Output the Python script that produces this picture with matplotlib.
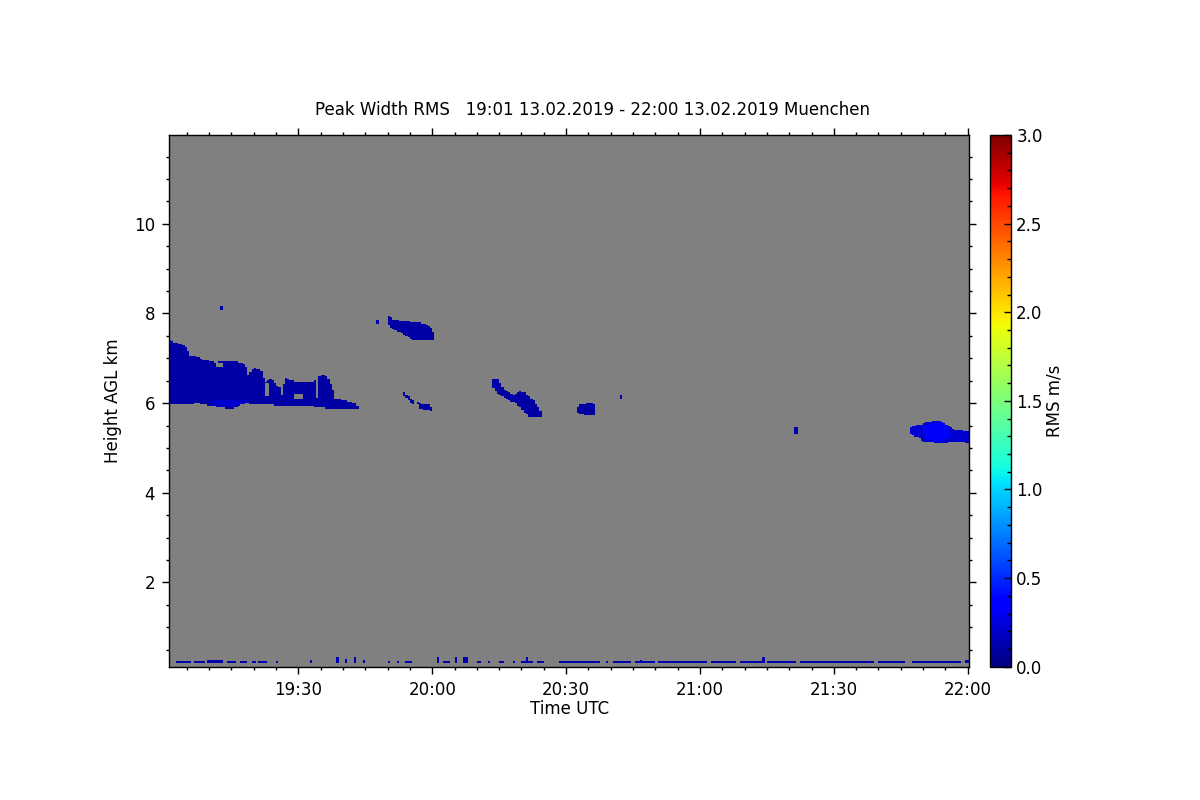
import numpy as np
import matplotlib
matplotlib.use("Agg")
import matplotlib.pyplot as plt
from matplotlib.path import Path
from matplotlib.ticker import MultipleLocator, FuncFormatter

plt.rcParams['font.family'] = ['DejaVu Sans']
FS = 12

# ---------------- data (time in minutes after 19:00 UTC, height in km AGL) -------------
TITLE = "Peak Width RMS   19:01 13.02.2019 - 22:00 13.02.2019 Muenchen"
T_START, T_END = 1.0, 180.4
H_MIN, H_MAX = 0.12, 11.98
T_STEP, H_STEP = 0.5, 0.03

# cloud outlines: (minutes, km)
CLOUD_A_T = [1.0, 3.5, 5.0, 5.7, 7.6, 8.7, 11.3, 13.2, 17.3, 18.4, 18.8, 19.6, 20.3, 21.8, 22.5, 24.0, 24.8,
             25.9, 26.3, 27.0, 28.5, 31.5, 34.1, 34.9, 35.6, 36.7, 37.9, 38.2, 40.5, 43.1, 43.5, 37.5, 31.5,
             25.5, 18.1, 15.1, 12.1, 7.6, 1.0]
CLOUD_A_H = [7.41, 7.32, 7.24, 7.06, 7.02, 6.97, 6.91, 6.93, 6.91, 6.80, 6.61, 6.76, 6.78, 6.73, 6.47, 6.54,
             6.43, 6.36, 6.17, 6.58, 6.50, 6.47, 6.50, 6.61, 6.65, 6.54, 6.25, 6.10, 6.06, 5.99, 5.89, 5.88,
             5.95, 5.95, 5.99, 5.88, 5.91, 5.99, 5.96]
CLOUD_B_T = [50.0, 51.3, 53.5, 55.8, 57.9, 60.0, 60.5, 60.5, 57.9, 55.8, 53.5, 51.3, 50.0]
CLOUD_B_H = [7.97, 7.87, 7.83, 7.81, 7.78, 7.68, 7.50, 7.40, 7.42, 7.42, 7.55, 7.64, 7.75]
CLOUD_C_T = [53.4, 54.4, 55.9, 55.7, 55.2, 53.7]
CLOUD_C_H = [6.27, 6.18, 6.03, 5.97, 6.02, 6.16]
CLOUD_D_T = [56.6, 57.3, 59.2, 59.9, 59.9, 57.3, 56.7]
CLOUD_D_H = [6.06, 5.99, 5.96, 5.89, 5.82, 5.88, 5.99]
CLOUD_E_T = [73.7, 74.8, 75.6, 76.7, 78.2, 79.8, 80.7, 82.6, 83.7, 84.6, 84.6, 82.0, 80.5, 79.8, 78.2,
             76.7, 74.8, 73.7]
CLOUD_E_H = [6.55, 6.54, 6.36, 6.27, 6.19, 6.27, 6.24, 6.07, 5.92, 5.75, 5.69, 5.69, 5.80, 5.92, 6.02,
             6.10, 6.22, 6.33]
CLOUD_F_T = [92.3, 93.2, 95.1, 96.2, 96.7, 94.3, 92.8]
CLOUD_F_H = [5.84, 5.96, 6.00, 6.01, 5.73, 5.73, 5.78]
CLOUD_G_T = [141.1, 141.9, 142.0, 141.2]
CLOUD_G_H = [5.48, 5.45, 5.30, 5.32]
CLOUD_H_T = [166.8, 167.2, 169.4, 171.3, 173.9, 175.0, 176.9, 178.4, 180.6, 180.6, 177.6, 173.9, 170.1,
             169.0, 167.5]
CLOUD_H_H = [5.36, 5.47, 5.52, 5.59, 5.61, 5.54, 5.42, 5.39, 5.37, 5.10, 5.14, 5.10, 5.14, 5.23, 5.30]
CLOUD_VALUES = [0.10, 0.10, 0.10, 0.10, 0.10, 0.10, 0.12, 0.22]

# brighter cores
CORE_A_T = [10.5, 18.5, 18.5, 10.5]
CORE_A_H = [6.05, 6.05, 5.90, 5.90]
CORE_H_T = [170.0, 174.5, 176.5, 174.0, 170.5]
CORE_H_H = [5.50, 5.58, 5.30, 5.14, 5.20]
CORE_VALUES = [0.20, 0.33]

# gaps inside the large cloud: (t0, t1, h0, h1)
HOLES = [(22.6, 23.4, 6.15, 6.45), (29.2, 31.0, 6.08, 6.22), (33.9, 34.7, 6.12, 6.70),
         (11.5, 13.0, 6.82, 6.90)]

# small isolated echoes: (t0, t1, h0, h1)
SPECKLES = [(12.5, 13.2, 8.06, 8.17), (47.4, 47.9, 7.78, 7.85), (101.8, 102.3, 6.10, 6.17)]
SPECKLE_VALUE = 0.12

# near-ground clutter: (t0, t1, top km), base 0.21 km
GROUND = [(2.5, 6.0, 0.24), (6.5, 9.0, 0.24), (9.5, 13.0, 0.26), (14.0, 16.0, 0.24), (17.0, 18.5, 0.24),
          (19.5, 20.5, 0.24), (21.0, 23.0, 0.24), (25.0, 25.5, 0.24), (32.5, 33.0, 0.27),
          (38.5, 39.0, 0.34), (40.5, 41.0, 0.30), (42.5, 43.0, 0.34), (44.5, 45.0, 0.28),
          (50.0, 50.5, 0.24), (52.0, 52.5, 0.24), (54.0, 55.5, 0.24), (61.0, 61.5, 0.33),
          (62.5, 64.0, 0.24), (65.0, 65.5, 0.33), (67.0, 68.0, 0.34), (70.0, 71.0, 0.24),
          (72.5, 73.0, 0.24), (75.0, 76.0, 0.24), (78.0, 78.5, 0.24), (80.0, 82.5, 0.24),
          (81.0, 81.5, 0.32), (83.5, 85.0, 0.24), (88.5, 97.5, 0.24), (99.0, 99.5, 0.24),
          (100.5, 104.5, 0.24), (105.5, 110.0, 0.24), (106.5, 107.0, 0.28), (110.5, 121.5, 0.24),
          (122.5, 128.0, 0.24), (129.0, 134.0, 0.24), (134.0, 134.5, 0.33), (135.0, 141.5, 0.24),
          (142.5, 159.0, 0.24), (160.0, 166.0, 0.24), (167.5, 178.5, 0.24), (179.5, 180.4, 0.26)]
GROUND_BASE = 0.21
GROUND_VALUE = 0.12

# ---------------- build the field ----------------
t_edges = np.arange(T_START, T_END + T_STEP, T_STEP)
h_edges = np.arange(H_MIN, H_MAX + H_STEP, H_STEP)
tc = 0.5 * (t_edges[:-1] + t_edges[1:])
hc = 0.5 * (h_edges[:-1] + h_edges[1:])
TT, HH = np.meshgrid(tc, hc)
pts = np.column_stack([TT.ravel(), HH.ravel()])
field = np.full(TT.shape, np.nan)


def poly_mask(ts, hs):
    return Path(np.column_stack([ts, hs])).contains_points(pts).reshape(TT.shape)


clouds = [(CLOUD_A_T, CLOUD_A_H), (CLOUD_B_T, CLOUD_B_H), (CLOUD_C_T, CLOUD_C_H), (CLOUD_D_T, CLOUD_D_H),
          (CLOUD_E_T, CLOUD_E_H), (CLOUD_F_T, CLOUD_F_H), (CLOUD_G_T, CLOUD_G_H), (CLOUD_H_T, CLOUD_H_H)]
for (ts, hs), v in zip(clouds, CLOUD_VALUES):
    field[poly_mask(ts, hs)] = v
for (ts, hs), v in zip([(CORE_A_T, CORE_A_H), (CORE_H_T, CORE_H_H)], CORE_VALUES):
    m = poly_mask(ts, hs)
    field[m & ~np.isnan(field)] = v
for t0, t1, h0, h1 in HOLES:
    field[(TT >= t0) & (TT <= t1) & (HH >= h0) & (HH <= h1)] = np.nan
for t0, t1, h0, h1 in SPECKLES:
    field[(TT >= t0) & (TT <= t1) & (HH >= h0) & (HH <= h1)] = SPECKLE_VALUE
for t0, t1, top in GROUND:
    field[(TT >= t0) & (TT <= t1) & (HH >= GROUND_BASE) & (HH <= top)] = GROUND_VALUE

# ---------------- plot ----------------
fig = plt.figure(figsize=(12, 8), dpi=100)
ax = fig.add_axes([0.1408, 0.1666, 0.6671, 0.6646])
ax.set_facecolor('#808080')
mesh = ax.pcolormesh(t_edges, h_edges, np.ma.masked_invalid(field), cmap='jet', vmin=0, vmax=3,
                     shading='flat')
ax.set_xlim(T_START, T_END)
ax.set_ylim(H_MIN, H_MAX)

ax.xaxis.set_major_locator(MultipleLocator(30))
ax.xaxis.set_minor_locator(MultipleLocator(5))
ax.xaxis.set_major_formatter(FuncFormatter(lambda m, _: f"{19 + int(round(m)) // 60}:{int(round(m)) % 60:02d}"))
ax.yaxis.set_major_locator(MultipleLocator(2))
ax.yaxis.set_minor_locator(MultipleLocator(0.5))
ax.tick_params(which='both', direction='out', top=True, right=True, labelsize=FS, width=1)
ax.tick_params(which='major', length=5, pad=5)
ax.tick_params(which='minor', length=2.5)
for s in ax.spines.values():
    s.set_linewidth(1)

ax.set_xlabel("Time UTC", fontsize=FS)
ax.xaxis.set_label_coords(0.5, -0.0635)
ax.set_ylabel("Height AGL km", fontsize=FS)
ax.yaxis.set_label_coords(-0.0587, 0.5)
fig.text(0.494, 0.8625, TITLE, ha='center', va='center', fontsize=FS)

cax = fig.add_axes([0.825, 0.1666, 0.0172, 0.6646])
cb = fig.colorbar(mesh, cax=cax)
cb.set_ticks(np.arange(0, 3.01, 0.5))
cb.ax.yaxis.set_major_formatter(FuncFormatter(lambda v, _: f"{v:.1f}"))
cb.ax.yaxis.set_minor_locator(MultipleLocator(0.1))
cb.ax.tick_params(which='both', direction='in', labelsize=FS, width=1, pad=4)
cb.ax.tick_params(which='major', length=5)
cb.ax.tick_params(which='minor', length=3)
cb.outline.set_linewidth(1)
cb.set_label("RMS m/s", fontsize=FS)
cb.ax.yaxis.set_label_coords(2.67, 0.5)

fig.savefig("out.png", dpi=100)
